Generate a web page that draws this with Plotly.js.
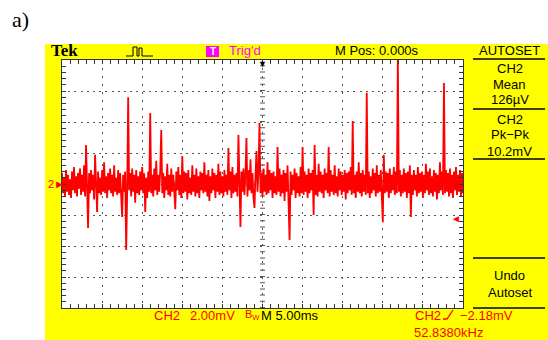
<!DOCTYPE html>
<html>
<head>
<meta charset="utf-8">
<script src="https://cdn.plot.ly/plotly-3.0.1.min.js"></script>
<style>html,body{margin:0;padding:0;background:#fff;}#chart{width:548px;height:340px;}</style>
</head>
<body>
<div id="chart"></div>
<script>
// CH2 samples, in vertical divisions (2.00 mV/div), 40 samples per 5.00 ms division
const ch2Samples = [
  0.35,-0.3,0.2,-0.4,0.45,-0.25,0.3,-0.35,0.15,-0.45,0.4,-0.2,0.55,-0.3,0.25,-0.4,0.35,-0.15,0.5,-0.35,
  0.3,-0.25,0.6,-0.4,1.26,0.2,-1.42,0.35,-0.3,0.45,-0.2,0.3,-0.5,0.94,-0.25,-0.9,0.4,-0.3,0.2,-0.35,
  0.45,-0.25,0.7,-0.3,0.25,-0.45,0.35,-0.2,0.5,-0.3,0.3,-0.4,0.6,-0.25,0.2,-0.35,0.45,-0.3,0.35,-0.5,
  -1.06,0.3,-0.25,0.4,-2.13,-0.3,2.8,-0.2,0.35,-0.4,0.5,-0.25,0.3,-0.6,0.45,-0.3,0.25,-0.35,0.4,-0.2,
  0.55,-0.3,0.35,-0.9,0.2,-0.45,0.4,-0.25,2.29,-0.3,0.3,-0.4,0.5,-0.2,0.75,-0.35,0.3,-0.25,0.45,1.74,
  -0.3,0.35,-0.45,0.25,-0.2,0.65,-0.35,0.3,-0.4,0.5,-0.25,0.3,-0.3,-0.81,0.4,-0.2,0.55,-0.35,0.3,-0.45,
  0.9,-0.3,0.4,-0.25,0.35,-0.5,0.45,-0.3,0.2,-0.35,0.6,-0.25,0.3,-0.4,0.5,-0.3,0.25,-0.45,0.4,-0.2,
  0.35,-0.3,0.7,-0.25,0.3,-0.4,0.45,-0.55,0.25,-0.3,0.5,-0.2,0.35,-0.45,0.3,-0.25,0.65,-0.35,0.4,-0.3,
  0.25,-0.4,0.45,-0.25,0.3,-0.35,1.16,-0.2,0.4,-0.45,0.55,-0.3,0.3,-0.25,0.35,-0.4,1.58,-0.3,-1.39,0.4,
  -0.25,0.5,-0.35,0.3,1.48,-0.4,0.45,-0.2,0.8,-0.3,0.35,-0.45,-0.77,0.3,1.06,-0.25,0.4,1.97,-0.3,0.35,
  -0.4,0.5,-0.25,0.3,-0.35,0.7,-0.3,0.45,-0.2,0.35,-0.45,0.4,-0.3,0.25,-0.35,1.19,-0.25,0.5,-0.4,0.3,
  -0.3,0.45,-0.55,0.35,-0.25,0.6,-0.3,-1.81,0.4,-0.35,0.3,-0.2,0.5,-0.45,0.35,-0.3,0.25,-0.4,0.55,-0.3,
  1.19,-0.35,0.4,-0.25,0.3,-0.45,0.5,-0.3,0.35,-0.2,0.45,-1.0,1.26,-0.35,0.3,-0.4,0.65,-0.25,0.4,-0.3,
  0.3,-0.45,0.5,-0.2,0.35,-0.3,1.19,-0.4,0.45,-0.25,0.3,-0.35,0.6,-0.3,0.25,-0.4,0.5,-0.2,0.4,-0.35,
  0.3,-0.25,0.45,-0.5,0.35,-0.3,0.4,-0.2,0.55,-0.35,2.03,-0.3,0.3,-0.45,0.4,-0.25,0.7,-0.3,0.35,-0.4,
  0.45,-0.25,0.3,-0.35,2.94,-0.3,0.4,-0.45,0.25,-0.3,0.5,-0.2,0.35,-0.4,0.6,-0.3,0.3,-0.25,0.45,-0.35,
  -1.23,0.94,-0.3,0.4,-0.25,0.35,-0.45,0.5,-0.3,0.3,-0.2,0.55,-0.35,0.4,-0.3,4.1,-0.25,0.45,-0.4,0.3,
  -0.3,0.5,-0.25,0.35,-0.45,0.4,-0.3,0.6,-1.06,0.3,-0.35,0.45,-0.2,0.3,-0.4,0.55,-0.3,0.35,-0.25,0.4,
  -0.45,0.3,-0.3,0.65,-0.2,0.4,-0.35,0.5,-0.3,0.25,-0.4,0.45,-0.25,0.35,-0.5,0.3,-0.3,0.7,-0.2,0.4,
  -0.35,3.26,-0.3,0.45,-0.25,0.35,-0.4,0.5,-0.3,0.3,-0.45,0.4,-0.2,0.55,-0.35,0.3,-0.25,0.45,-0.4,0.35,
  -0.3
];
const headerTexts = {tek: "Tek", trig: "Trig'd", mpos: "M Pos: 0.000s", autoset: "AUTOSET"};
const sideTexts = ["CH2", "Mean", "126\u00B5V", "CH2", "Pk\u2212Pk", "10.2mV", "Undo", "Autoset"];
const footTexts = {ch: "CH2", volts: "2.00mV", bw: "B<sub>W</sub>", time: "M 5.00ms", trigCh: "CH2", trigLevel: "\u22122.18mV", freq: "52.8380kHz"};

const L = 62, T = 60, R = 463, B = 308;
const px = x => (x - L) / (R - L);
const py = y => (B - y) / (B - T);
const YEL = '#ffff00', RED = '#ff0000', MAG = '#ff00ff', GRID = '#555';
const SANS = 'Liberation Sans, Arial, sans-serif';

function ann(text, x, y, o) {
  o = o || {};
  return {text: text, xref: 'paper', yref: 'paper', x: px(x), y: py(y),
    xanchor: o.xa || 'center', yanchor: 'middle', showarrow: false,
    font: {family: o.family || SANS, size: o.size || 13, color: o.color || '#000', weight: o.weight || 'normal'}};
}
function rect(x0, y0, x1, y1, color) {
  return {type: 'rect', xref: 'paper', yref: 'paper', x0: px(x0), x1: px(x1), y0: py(y0), y1: py(y1),
    fillcolor: color, line: {width: 0}, layer: 'below'};
}
function hline(x0, x1, y, color, w) {
  return {type: 'line', xref: 'paper', yref: 'paper', x0: px(x0), x1: px(x1), y0: py(y), y1: py(y),
    line: {color: color, width: w || 1.5}, layer: 'above'};
}

const NS = ch2Samples.length - 1;

const shapes = [
  rect(45, 44, 548, T, YEL),
  rect(45, 44, L, 340, YEL),
  rect(45, B, 548, 340, YEL),
  rect(R, 44, 548, 340, YEL),
  rect(206, 46, 219, 57, MAG),
  hline(473, 545, 59, '#000'),
  hline(473, 545, 109, '#000'),
  hline(473, 545, 159, '#000'),
  hline(473, 545, 258, '#000'),
  hline(473, 545, 308, '#000'),
  // center graticule ticks
  {type: 'line', xref: 'paper', yref: 'paper', x0: 0.5, x1: 0.5, y0: 0, y1: 1,
   line: {color: GRID, width: 5, dash: '1px,5.2px'}, layer: 'below'},
  {type: 'line', xref: 'paper', yref: 'paper', x0: 0, x1: 1, y0: 0.5, y1: 0.5,
   line: {color: GRID, width: 5, dash: '1px,7.02px'}, layer: 'below'},
  // acquisition icon
  {type: 'path', xref: 'paper', yref: 'paper',
   path: 'M' + px(126) + ',' + py(56) + ' L' + px(133) + ',' + py(56) + ' L' + px(133) + ',' + py(47) +
         ' L' + px(137) + ',' + py(47) + ' L' + px(137) + ',' + py(56) + ' L' + px(139) + ',' + py(56) +
         ' L' + px(139) + ',' + py(48) + ' L' + px(142) + ',' + py(48) + ' L' + px(142) + ',' + py(56) +
         ' L' + px(153) + ',' + py(56),
   line: {color: '#000', width: 1}},
  // rising edge icon
  {type: 'path', xref: 'paper', yref: 'paper',
   path: 'M' + px(443) + ',' + py(319) + ' L' + px(447) + ',' + py(319) + ' L' + px(453) + ',' + py(310),
   line: {color: RED, width: 1.3}}
];

const annotations = [
  ann('a)', 20, 19, {family: 'Liberation Serif, Times New Roman, serif', size: 22}),
  ann(headerTexts.tek, 64, 51, {family: 'Liberation Serif, Times New Roman, serif', size: 17, weight: 'bold'}),
  ann('T', 212.5, 51.5, {size: 10, color: '#fff', weight: 'bold'}),
  ann(headerTexts.trig, 227, 51, {xa: 'left', color: MAG}),
  ann(headerTexts.mpos, 377, 51),
  ann(headerTexts.autoset, 509, 50),
  ann(sideTexts[0], 510, 68),
  ann(sideTexts[1], 510, 84),
  ann(sideTexts[2], 510, 99),
  ann(sideTexts[3], 510, 119),
  ann(sideTexts[4], 510, 134),
  ann(sideTexts[5], 510, 151),
  ann(sideTexts[6], 510, 275),
  ann(sideTexts[7], 510, 292),
  ann(footTexts.ch, 152, 315, {xa: 'left', color: RED}),
  ann(footTexts.volts, 188, 315, {xa: 'left', color: RED}),
  ann(footTexts.bw, 243, 315, {xa: 'left', color: RED, size: 11}),
  ann(footTexts.time, 259, 315, {xa: 'left'}),
  ann(footTexts.trigCh, 413, 315, {xa: 'left', color: RED}),
  ann(footTexts.trigLevel, 458, 315, {xa: 'left', color: RED}),
  ann(footTexts.freq, 412, 332, {xa: 'left', color: RED}),
  ann('2\u25BA', 46, 184, {xa: 'left', color: RED, size: 11}),
  ann('\u25C4', 463, 218, {xa: 'right', color: RED, size: 10}),
  ann('\u25BC', 262, 64, {size: 9})
];

const axisCommon = {
  showline: true, linecolor: '#333', linewidth: 1, mirror: 'allticks',
  ticks: 'inside', ticklen: 4, tickcolor: '#333', tickwidth: 1,
  showticklabels: false, zeroline: false, showgrid: true, gridcolor: GRID, gridwidth: 1,
  fixedrange: true
};

const layout = {
  width: 548, height: 340,
  margin: {l: L, r: 548 - R, t: T, b: 340 - B, pad: 0},
  paper_bgcolor: '#fff', plot_bgcolor: '#fff',
  showlegend: false,
  xaxis: Object.assign({}, axisCommon, {range: [0, NS], dtick: NS / 10, tick0: 0, griddash: '2px,6.02px',
    minor: {dtick: NS / 50, tick0: 0, ticks: 'inside', ticklen: 4, tickcolor: '#333', showgrid: false}}),
  yaxis: Object.assign({}, axisCommon, {range: [-4, 4], dtick: 1, tick0: 0, griddash: '2px,4.2px',
    minor: {dtick: 0.2, tick0: 0, ticks: 'inside', ticklen: 4, tickcolor: '#333', showgrid: false}}),
  shapes: shapes,
  annotations: annotations
};

const trace = {
  type: 'scatter', mode: 'lines', y: ch2Samples,
  line: {color: RED, width: 1.8}, hoverinfo: 'skip'
};

Plotly.newPlot('chart', [trace], layout, {staticPlot: true, displayModeBar: false});
</script>
</body>
</html>
